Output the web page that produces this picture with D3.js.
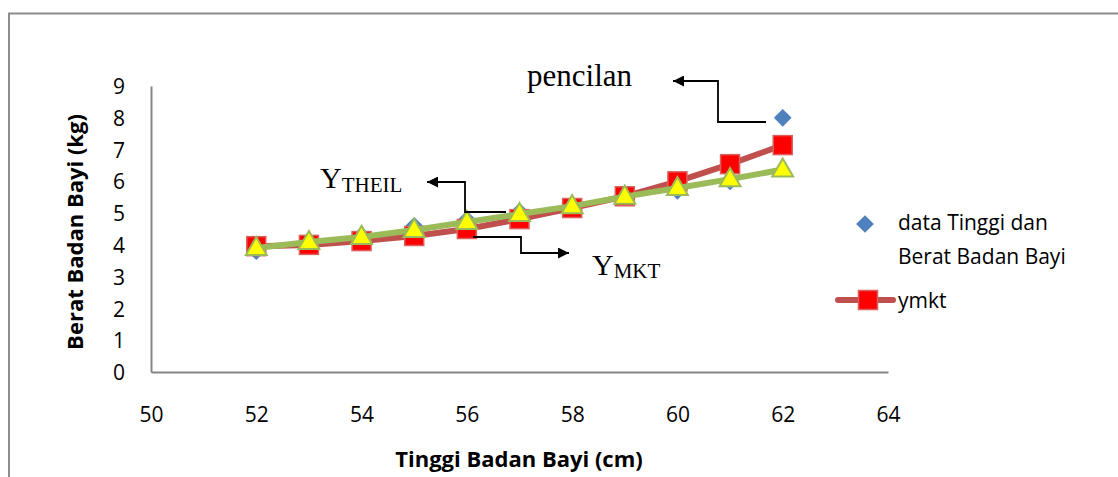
<!DOCTYPE html>
<html><head><meta charset="utf-8">
<script src="https://cdn.jsdelivr.net/npm/d3@7"></script>
<style>body{margin:0;background:#fff;} svg{display:block;}</style>
</head><body>
<svg id="c" width="1118" height="477"></svg>
<script>
const xValues = [52,53,54,55,56,57,58,59,60,61,62];
const dataActual = [3.8,4.0,4.3,4.6,4.8,5.05,5.2,5.5,5.7,6.0,8.0];
const yMkt = [3.96,4.0,4.12,4.28,4.5,4.81,5.16,5.53,6.0,6.54,7.14];
const yTheil = [3.9,4.09,4.25,4.47,4.72,4.97,5.22,5.52,5.79,6.07,6.37];
const xTicks = [50,52,54,56,58,60,62,64];
const yTicks = [0,1,2,3,4,5,6,7,8,9];
const legendLabels = ["data Tinggi dan","Berat Badan Bayi","ymkt"];

const svg = d3.select("#c");
const font = "'Open Sans', Carlito, Calibri, sans-serif";
const x = d3.scaleLinear().domain([50,64]).range([151,888]);
const y = d3.scaleLinear().domain([0,9]).range([372,86]);

// outer frame
svg.append("path").attr("d","M9,478 L9,13.5 L1120,13.5").attr("fill","none").attr("stroke","#8c8c8c").attr("stroke-width",2);

// axes
const xAxis = svg.append("g").attr("transform","translate(0,372)").call(d3.axisBottom(x).tickValues(xTicks).tickSize(0).tickPadding(42));
const yAxis = svg.append("g").attr("transform","translate(151,0)").call(d3.axisLeft(y).tickValues(yTicks).tickSize(0).tickPadding(26));
[xAxis,yAxis].forEach(g=>{
  g.select(".domain").attr("stroke","#868686").attr("stroke-width",2);
  g.selectAll("text").attr("font-family",font).attr("font-size",21).attr("fill","#000");
});
xAxis.selectAll("text").attr("dy","0.36em");
yAxis.selectAll("text").attr("dy","0.36em");

// axis titles
svg.append("text").attr("x",519).attr("y",467).attr("text-anchor","middle")
  .attr("font-family",font).attr("font-weight","bold").attr("font-size",22).text("Tinggi Badan Bayi (cm)");
svg.append("text").attr("transform","translate(83,232) rotate(-90)").attr("text-anchor","middle")
  .attr("font-family",font).attr("font-weight","bold").attr("font-size",22).text("Berat Badan Bayi (kg)");

// diamonds (actual data)
const diamond = d3.symbol().type(d3.symbolDiamond2).size(200);
svg.append("g").selectAll("path").data(xValues).join("path")
  .attr("d",diamond).attr("transform",(d,i)=>`translate(${x(d)},${y(dataActual[i])})`)
  .attr("fill","#4F81BD");

// ymkt line
const line = arr => d3.line().x((d,i)=>x(d)).y((d,i)=>y(arr[i]));
svg.append("path").datum(xValues).attr("d",line(yMkt)).attr("fill","none")
  .attr("stroke","#C0504D").attr("stroke-width",6).attr("stroke-linejoin","round");
svg.append("g").selectAll("rect").data(xValues).join("rect")
  .attr("x",d=>x(d)-9.5).attr("y",(d,i)=>y(yMkt[i])-9.5).attr("width",19).attr("height",19)
  .attr("fill","#FF0000").attr("stroke","#D9605D").attr("stroke-width",1.5);

// ytheil line
svg.append("path").datum(xValues).attr("d",line(yTheil)).attr("fill","none")
  .attr("stroke","#9BBB59").attr("stroke-width",6).attr("stroke-linejoin","round");
const tri = d3.symbol().type(d3.symbolTriangle).size(190);
svg.append("g").selectAll("path").data(xValues).join("path")
  .attr("d",tri).attr("transform",(d,i)=>`translate(${x(d)},${y(yTheil[i])+1})`)
  .attr("fill","#FFFF00").attr("stroke","#9BBB59").attr("stroke-width",2);

// annotations
const defs = svg.append("defs");
defs.append("marker").attr("id","ah").attr("viewBox","0 0 10 10").attr("refX",10).attr("refY",5)
  .attr("markerWidth",14).attr("markerHeight",11).attr("markerUnits","userSpaceOnUse").attr("orient","auto")
  .append("path").attr("d","M0,0 L10,5 L0,10 Z").attr("fill","#000");
function arrow(pts){
  svg.append("path").attr("d",d3.line()(pts)).attr("fill","none").attr("stroke","#000")
    .attr("stroke-width",1.8).attr("marker-end","url(#ah)");
}
arrow([[766,122],[718,122],[718,81],[673,81]]);
arrow([[506,212],[465,212],[465,182],[427,182]]);
arrow([[473,237],[521,237],[521,253],[569,253]]);

const serif = "'Liberation Serif','Times New Roman',serif";
svg.append("text").attr("x",527).attr("y",86).attr("font-family",serif).attr("font-size",31).text("pencilan");
const t1 = svg.append("text").attr("x",320).attr("y",188).attr("font-family",serif).attr("font-size",30);
t1.append("tspan").text("Y");
t1.append("tspan").attr("font-size",21).attr("dy",4).text("THEIL");
const t2 = svg.append("text").attr("x",592).attr("y",275).attr("font-family",serif).attr("font-size",30);
t2.append("tspan").text("Y");
t2.append("tspan").attr("font-size",21).attr("dy",3).text("MKT");

// legend
svg.append("path").attr("d",d3.symbol().type(d3.symbolDiamond2).size(200)()).attr("transform","translate(865,224)").attr("fill","#4F81BD");
svg.append("line").attr("x1",838).attr("x2",893).attr("y1",300).attr("y2",300).attr("stroke","#C0504D").attr("stroke-width",6).attr("stroke-linecap","round");
svg.append("rect").attr("x",858.5).attr("y",290.5).attr("width",19).attr("height",19).attr("fill","#FF0000").attr("stroke","#D9605D").attr("stroke-width",1.5);
svg.append("text").attr("x",898).attr("y",230).attr("font-family",font).attr("font-size",21).text(legendLabels[0]);
svg.append("text").attr("x",898).attr("y",264).attr("font-family",font).attr("font-size",21).text(legendLabels[1]);
svg.append("text").attr("x",898).attr("y",308).attr("font-family",font).attr("font-size",21).text(legendLabels[2]);
</script>
</body></html>
